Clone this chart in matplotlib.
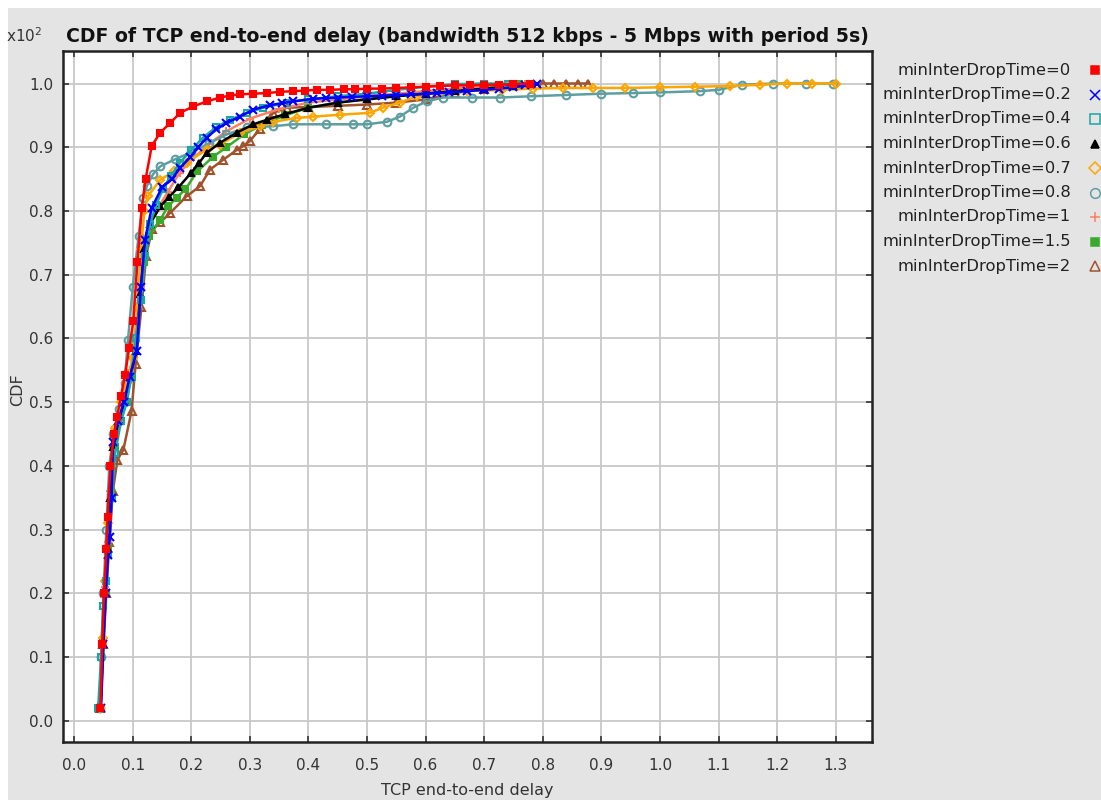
import matplotlib
matplotlib.use('Agg')
import matplotlib.pyplot as plt
from matplotlib.patches import Rectangle

# minInterDropTime series, x = delay (s), y = CDF (x10^2)
labels = ['minInterDropTime=0', 'minInterDropTime=0.2', 'minInterDropTime=0.4',
          'minInterDropTime=0.6', 'minInterDropTime=0.7', 'minInterDropTime=0.8',
          'minInterDropTime=1', 'minInterDropTime=1.5', 'minInterDropTime=2']

x_0 = [0.045, 0.048, 0.051, 0.055, 0.057, 0.062, 0.068, 0.073, 0.080, 0.087, 0.094, 0.101, 0.108,
       0.1155, 0.122, 0.1325, 0.147, 0.164, 0.181, 0.203, 0.227, 0.249, 0.266, 0.283, 0.306, 0.329,
       0.352, 0.374, 0.394, 0.414, 0.437, 0.46, 0.48, 0.50, 0.525, 0.55, 0.575, 0.60, 0.625, 0.65,
       0.675, 0.70, 0.725, 0.75, 0.778]
y_0 = [0.02, 0.12, 0.20, 0.27, 0.32, 0.40, 0.45, 0.476, 0.51, 0.543, 0.585, 0.627, 0.72,
       0.805, 0.85, 0.902, 0.923, 0.938, 0.954, 0.964, 0.972, 0.978, 0.981, 0.983, 0.984, 0.985,
       0.987, 0.988, 0.989, 0.990, 0.990, 0.991, 0.991, 0.992, 0.992, 0.993, 0.994, 0.995, 0.996, 0.997,
       0.997, 0.998, 0.998, 0.999, 1.0]

x_02 = [0.046, 0.050, 0.054, 0.058, 0.061, 0.064, 0.066, 0.075, 0.085, 0.095, 0.107, 0.114, 0.121,
        0.1325, 0.15, 0.167, 0.181, 0.198, 0.212, 0.226, 0.243, 0.26, 0.283, 0.306, 0.334, 0.354,
        0.374, 0.408, 0.43, 0.45, 0.475, 0.50, 0.525, 0.55, 0.575, 0.60, 0.62, 0.64, 0.67, 0.70,
        0.725, 0.75, 0.77, 0.79]
y_02 = [0.02, 0.12, 0.20, 0.26, 0.289, 0.35, 0.438, 0.47, 0.50, 0.54, 0.58, 0.68, 0.755,
        0.805, 0.837, 0.85, 0.868, 0.884, 0.90, 0.915, 0.928, 0.938, 0.948, 0.959, 0.966, 0.969,
        0.972, 0.976, 0.977, 0.978, 0.979, 0.980, 0.981, 0.982, 0.983, 0.984, 0.985, 0.986, 0.988, 0.990,
        0.992, 0.994, 0.997, 1.0]

x_04 = [0.041, 0.046, 0.050, 0.054, 0.058, 0.064, 0.070, 0.080, 0.090, 0.097, 0.105, 0.114, 0.121,
        0.130, 0.140, 0.152, 0.165, 0.180, 0.20, 0.22, 0.243, 0.266, 0.295, 0.323, 0.363, 0.40,
        0.45, 0.50, 0.55, 0.60, 0.65, 0.70, 0.74, 0.78]
y_04 = [0.02, 0.10, 0.18, 0.22, 0.26, 0.35, 0.42, 0.47, 0.50, 0.538, 0.60, 0.66, 0.73,
        0.78, 0.81, 0.835, 0.855, 0.875, 0.896, 0.915, 0.932, 0.943, 0.954, 0.962, 0.970, 0.975,
        0.980, 0.984, 0.990, 0.995, 0.999, 1.0, 1.0, 1.0]

x_06 = [0.045, 0.049, 0.053, 0.057, 0.062, 0.067, 0.076, 0.086, 0.096, 0.105, 0.113, 0.120, 0.130,
        0.147, 0.162, 0.178, 0.20, 0.213, 0.226, 0.249, 0.278, 0.306, 0.329, 0.36, 0.40, 0.45,
        0.50, 0.55, 0.60, 0.65, 0.70, 0.75, 0.78]
y_06 = [0.02, 0.12, 0.20, 0.27, 0.35, 0.43, 0.47, 0.50, 0.54, 0.58, 0.67, 0.74, 0.78,
        0.807, 0.822, 0.837, 0.86, 0.875, 0.891, 0.907, 0.923, 0.936, 0.943, 0.952, 0.962, 0.970,
        0.975, 0.980, 0.984, 0.988, 0.992, 0.996, 1.0]

x_07 = [0.045, 0.049, 0.053, 0.057, 0.063, 0.070, 0.080, 0.090, 0.100, 0.108, 0.114, 0.120, 0.126,
        0.147, 0.17, 0.192, 0.226, 0.249, 0.283, 0.317, 0.34, 0.38, 0.408, 0.454, 0.505, 0.527,
        0.556, 0.585, 0.625, 0.67, 0.73, 0.783, 0.835, 0.886, 0.94, 1.0, 1.06, 1.12, 1.17, 1.217,
        1.26, 1.30]
y_07 = [0.02, 0.13, 0.22, 0.31, 0.40, 0.46, 0.50, 0.53, 0.57, 0.65, 0.74, 0.80, 0.823,
        0.849, 0.862, 0.876, 0.896, 0.904, 0.923, 0.933, 0.940, 0.946, 0.948, 0.951, 0.954, 0.962,
        0.970, 0.980, 0.986, 0.988, 0.990, 0.992, 0.993, 0.993, 0.993, 0.994, 0.995, 0.996, 0.998, 1.0,
        1.0, 1.0]

x_08 = [0.044, 0.046, 0.050, 0.055, 0.060, 0.067, 0.077, 0.086, 0.092, 0.100, 0.110, 0.118, 0.124,
        0.135, 0.147, 0.172, 0.20, 0.23, 0.26, 0.295, 0.34, 0.374, 0.43, 0.476, 0.50, 0.534,
        0.556, 0.579, 0.602, 0.63, 0.68, 0.727, 0.78, 0.84, 0.90, 0.954, 1.0, 1.068, 1.10, 1.14,
        1.193, 1.25, 1.295]
y_08 = [0.02, 0.10, 0.20, 0.30, 0.40, 0.45, 0.49, 0.53, 0.598, 0.68, 0.76, 0.82, 0.839,
        0.858, 0.87, 0.881, 0.892, 0.906, 0.92, 0.931, 0.933, 0.936, 0.936, 0.936, 0.936, 0.94,
        0.948, 0.962, 0.972, 0.978, 0.978, 0.978, 0.980, 0.982, 0.984, 0.985, 0.986, 0.988, 0.990, 0.998,
        1.0, 1.0, 1.0]

x_1 = [0.045, 0.049, 0.053, 0.057, 0.062, 0.067, 0.076, 0.086, 0.096, 0.105, 0.113, 0.120, 0.130,
       0.14, 0.16, 0.18, 0.20, 0.23, 0.26, 0.30, 0.35, 0.40, 0.45, 0.50, 0.55, 0.60, 0.65, 0.70, 0.77]
y_1 = [0.02, 0.12, 0.21, 0.28, 0.36, 0.43, 0.47, 0.51, 0.55, 0.60, 0.68, 0.75, 0.785,
       0.80, 0.83, 0.86, 0.88, 0.905, 0.925, 0.945, 0.96, 0.97, 0.975, 0.98, 0.984, 0.988, 0.992, 0.995, 1.0]

x_15 = [0.045, 0.050, 0.054, 0.058, 0.063, 0.069, 0.078, 0.088, 0.098, 0.106, 0.114, 0.120, 0.128,
        0.147, 0.16, 0.175, 0.19, 0.21, 0.237, 0.26, 0.29, 0.32, 0.36, 0.40, 0.45, 0.50, 0.55,
        0.60, 0.65, 0.70, 0.76]
y_15 = [0.02, 0.12, 0.20, 0.27, 0.36, 0.43, 0.47, 0.50, 0.54, 0.60, 0.66, 0.72, 0.76,
        0.786, 0.807, 0.821, 0.834, 0.862, 0.885, 0.90, 0.92, 0.935, 0.95, 0.962, 0.970, 0.976, 0.980,
        0.985, 0.990, 0.995, 1.0]

x_2 = [0.045, 0.050, 0.055, 0.060, 0.066, 0.074, 0.084, 0.098, 0.105, 0.115, 0.123, 0.133, 0.147,
       0.164, 0.192, 0.215, 0.232, 0.254, 0.278, 0.289, 0.30, 0.317, 0.34, 0.363, 0.40, 0.45, 0.50,
       0.55, 0.60, 0.65, 0.70, 0.75, 0.80, 0.82, 0.84, 0.86, 0.877]
y_2 = [0.02, 0.12, 0.20, 0.28, 0.36, 0.41, 0.425, 0.486, 0.56, 0.65, 0.73, 0.771, 0.782,
       0.797, 0.823, 0.839, 0.865, 0.88, 0.896, 0.902, 0.91, 0.928, 0.954, 0.962, 0.963, 0.965, 0.967,
       0.970, 0.975, 0.985, 0.992, 0.997, 1.0, 1.0, 1.0, 1.0, 1.0]

xs = [x_0, x_02, x_04, x_06, x_07, x_08, x_1, x_15, x_2]
ys = [y_0, y_02, y_04, y_06, y_07, y_08, y_1, y_15, y_2]

colors = ['#ff0000', '#0000ff', '#1aa6a6', '#000000', '#ffa500', '#5f9ea0', '#ff8060', '#3aaa2a', '#a0522d']
markers = ['s', 'x', 's', '^', 'D', 'o', '+', 's', '^']
filled = [True, True, False, True, False, False, True, True, False]
msizes = [4, 6, 5, 4.5, 4.5, 5.5, 6, 4.5, 5.5]

x_ticks = [0.0, 0.1, 0.2, 0.3, 0.4, 0.5, 0.6, 0.7, 0.8, 0.9, 1.0, 1.1, 1.2, 1.3]
y_ticks = [0.0, 0.1, 0.2, 0.3, 0.4, 0.5, 0.6, 0.7, 0.8, 0.9, 1.0]

plt.rcParams['font.family'] = ['DejaVu Sans']

fig = plt.figure(figsize=(11.01, 8.0), dpi=100)
fig.patch.set_facecolor('white')
fig.patches.append(Rectangle((8 / 1101, 0), 1, 792 / 800, transform=fig.transFigure,
                             facecolor='#e4e4e4', edgecolor='none', zorder=-10))

ax = fig.add_axes([63 / 1101, 58.5 / 800, 809 / 1101, 690.5 / 800])
ax.set_facecolor('white')

# series 0 drawn last so it stays on top
for i in reversed(range(len(labels))):
    mfc = colors[i] if filled[i] else 'none'
    ax.plot(xs[i], ys[i], color=colors[i], lw=1.8, marker=markers[i], ms=msizes[i],
            mfc=mfc, mec=colors[i], mew=1.5, zorder=3 + (len(labels) - i) * 0.1)

ax.set_xlim(-0.019, 1.362)
ax.set_ylim(-0.0325, 1.051)
ax.set_xticks(x_ticks)
ax.set_yticks(y_ticks)
ax.set_xticklabels(['%.1f' % v for v in x_ticks])
ax.set_yticklabels(['%.1f' % v for v in y_ticks])
ax.grid(True, color='#c8c8c8', lw=1.3)
ax.set_axisbelow(True)
ax.tick_params(direction='in', length=4, width=1.2, top=True, right=True,
               labelsize=11, labelcolor='#333333', color='#333333')
ax.tick_params(axis='x', pad=12)
ax.tick_params(axis='y', pad=7)
for s in ax.spines.values():
    s.set_linewidth(1.8)
    s.set_color('#222222')

ax.set_xlabel('TCP end-to-end delay', fontsize=11.5, color='#333333', labelpad=7)
fig.text(18 / 1101, 1 - 390 / 800, 'CDF', rotation=90, ha='center', va='center',
         fontsize=11.5, color='#333333')
fig.text(467 / 1101, 1 - 36 / 800,
         'CDF of TCP end-to-end delay (bandwidth 512 kbps - 5 Mbps with period 5s)',
         ha='center', va='center', fontsize=13.6, fontweight='bold', color='#111111')
fig.text(6 / 1101, 1 - 42 / 800, r'x10$^2$', ha='left', va='baseline', fontsize=11, color='#333333')

# legend on the right, text right-aligned with the symbol after it
lax = fig.add_axes([0, 0, 1, 1], facecolor='none')
lax.set_xlim(0, 1101)
lax.set_ylim(800, 0)
lax.axis('off')
for i, lab in enumerate(labels):
    yy = 70 + i * 24.5
    lax.text(1071, yy, lab, ha='right', va='center', fontsize=11.8, color='#222222')
    mfc = colors[i] if filled[i] else 'none'
    lax.plot([1095], [yy], marker=markers[i], ms=msizes[i] + 1.5, color=colors[i],
             mfc=mfc, mec=colors[i], mew=1.1, ls='none')

fig.savefig('out.png', dpi=100, facecolor=fig.get_facecolor())
